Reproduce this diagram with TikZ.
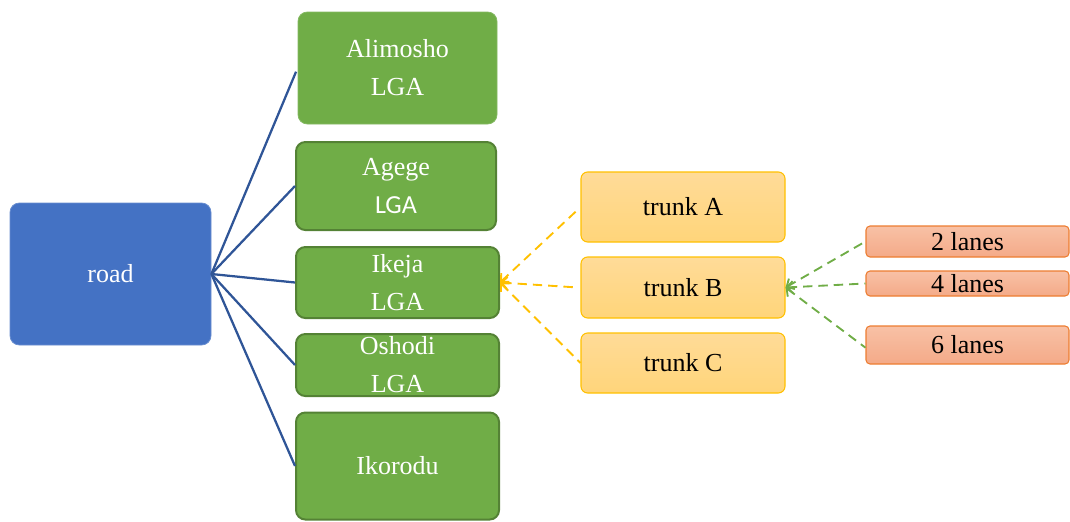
\documentclass[tikz,border=0pt]{standalone}
\usepackage{fontspec}
\setmainfont{Liberation Serif}
\newfontfamily\calib{Carlito}
\usetikzlibrary{arrows.meta}
\definecolor{roadblue}{HTML}{4472C4}
\definecolor{linkblue}{HTML}{2F5597}
\definecolor{lgagreen}{HTML}{70AD47}
\definecolor{lgaedge}{HTML}{548235}
\definecolor{trunkedge}{HTML}{FFC000}
\definecolor{trunktop}{HTML}{FFDB98}
\definecolor{trunkbot}{HTML}{FFD57A}
\definecolor{laneedge}{HTML}{ED7D31}
\definecolor{lanetop}{HTML}{F8C1A6}
\definecolor{lanebot}{HTML}{F4AA88}
\tikzset{
  box/.style={rounded corners=7pt, align=center, inner sep=0pt,
    font=\fontsize{19.5}{28.5}\selectfont},
  rootbox/.style={box, fill=roadblue, text=white, draw=roadblue!80!white, line width=0.6pt},
  lgabox/.style={box, fill=lgagreen, text=white, draw=lgaedge, line width=1.5pt},
  lgaplain/.style={box, fill=lgagreen, text=white, draw=lgagreen!85!white, line width=0.6pt},
  trunkbox/.style={box, rounded corners=5pt, top color=trunktop, bottom color=trunkbot,
    draw=trunkedge, line width=0.8pt, text=black},
  lanebox/.style={box, rounded corners=3pt, top color=lanetop, bottom color=lanebot,
    draw=laneedge, line width=0.8pt, text=black},
  tie/.style={draw=linkblue, line width=1.7pt},
  trunklink/.style={draw=trunkedge, line width=1.4pt, dash pattern=on 7pt off 4.5pt,
    {Straight Barb[length=4.5pt,width=9pt]}-},
  lanelink/.style={draw=lgagreen, line width=1.4pt, dash pattern=on 7pt off 4.5pt,
    {Straight Barb[length=4.5pt,width=9pt]}-},
}
\begin{document}
\begin{tikzpicture}[x=0.75pt, y=-0.75pt]
\useasboundingbox (0,0) rectangle (1070,521);

% root
\node[rootbox, minimum width=150.75pt, minimum height=106.5pt] (road) at (110.5,274) {road};

% local government areas
\node[lgaplain, minimum width=149.25pt, minimum height=84pt] (alim) at (397.5,68) {Alimosho\\LGA};
\node[lgabox, minimum width=150pt, minimum height=66pt] (agege) at (396,186) {Agege\\{\calib LGA}};
\node[lgabox, minimum width=152.25pt, minimum height=53.25pt] (ikeja) at (397.5,282.5) {Ikeja\\LGA};
\node[lgabox, minimum width=152.25pt, minimum height=46.5pt] (oshodi) at (397.5,365) {Oshodi\\LGA};
\node[lgabox, minimum width=152.25pt, minimum height=80.25pt] (ikorodu) at (397.5,466) {Ikorodu};

% trunks
\node[trunkbox, minimum width=153pt, minimum height=52.5pt] (ta) at (683,207) {trunk A};
\node[trunkbox, minimum width=153pt, minimum height=45.75pt] (tb) at (683,287.5) {trunk B};
\node[trunkbox, minimum width=153pt, minimum height=45pt] (tc) at (683,363) {trunk C};

% lanes
\node[lanebox, minimum width=152.25pt, minimum height=23.25pt] (l2) at (967.5,241.5) {2 lanes};
\node[lanebox, minimum width=152.25pt, minimum height=18.75pt] (l4) at (967.5,283.5) {4 lanes};
\node[lanebox, minimum width=152.25pt, minimum height=28.5pt] (l6) at (967.5,345) {6 lanes};

% road to areas
\draw[tie, shorten >=3pt] (road.east) -- (alim.west);
\draw[tie] (road.east) -- (agege.west);
\draw[tie] (road.east) -- (ikeja.west);
\draw[tie] (road.east) -- (oshodi.west);
\draw[tie] (road.east) -- (ikorodu.west);

% trunks to Ikeja
\draw[trunklink] (ikeja.east) -- ([xshift=-2pt,yshift=-2pt]ta.west);
\draw[trunklink] (ikeja.east) -- ([xshift=-2pt]tb.west);
\draw[trunklink] (ikeja.east) -- (tc.west);

% lanes to trunk B
\draw[lanelink] (tb.east) -- (l2.west);
\draw[lanelink] (tb.east) -- (l4.west);
\draw[lanelink] (tb.east) -- ([yshift=-2pt]l6.west);
\end{tikzpicture}
\end{document}
